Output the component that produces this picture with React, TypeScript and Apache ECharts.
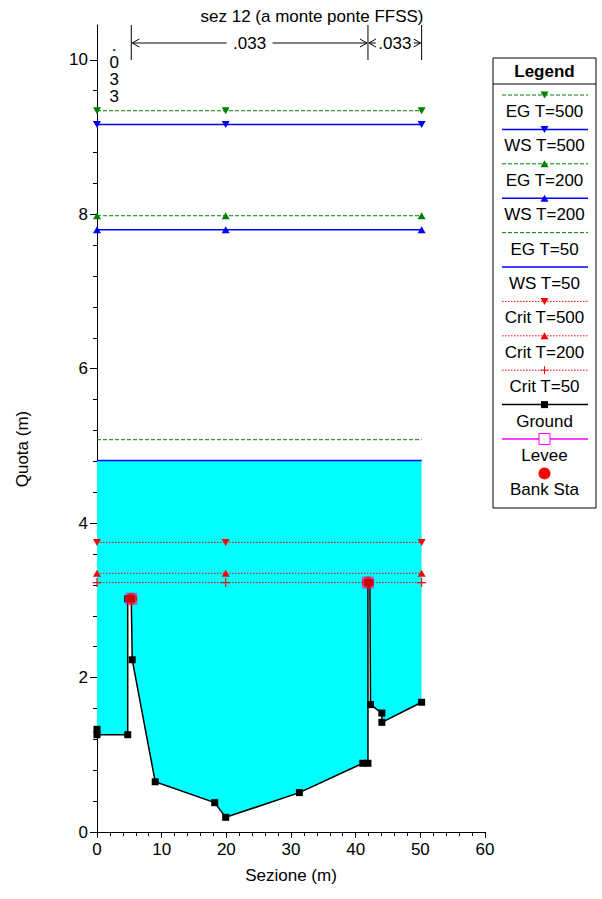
import React, { useEffect, useRef } from "react";
import * as echarts from "echarts";

const titleText = "sez 12 (a monte ponte FFSS)";
const xAxisName = "Sezione (m)";
const yAxisName = "Quota (m)";

// Ground profile (station, elevation)
const groundX = [0, 0, 4.75, 4.75, 5.3, 5.45, 9.0, 18.2, 19.9, 31.3, 41.1, 41.9, 41.9, 42.2, 42.3, 44.05, 44.05, 50.2];
const groundY = [1.33, 1.26, 1.26, 3.02, 3.02, 2.23, 0.65, 0.38, 0.19, 0.51, 0.89, 0.89, 3.23, 3.23, 1.65, 1.54, 1.42, 1.68];

// Water profiles
const profileNames = ["EG T=500", "WS T=500", "EG T=200", "WS T=200", "EG T=50", "WS T=50", "Crit T=500", "Crit T=200", "Crit T=50"];
const profileLevels = [9.34, 9.16, 7.98, 7.8, 5.08, 4.81, 3.75, 3.35, 3.23];
const profileKinds = ["EG", "WS", "EG", "WS", "EG", "WS", "Crit", "Crit", "Crit"];
const profileMarkers = ["down", "down", "up", "up", "none", "none", "down", "up", "plus"];
const markerStations = [0, 19.9, 50.2];
const fillProfile = "WS T=50";

// Bank stations / levees
const bankStaX = [5.3, 41.9];
const bankStaY = [3.02, 3.23];

// Manning's n
const nBreaks = [0, 5.3, 41.9, 50.2];
const nValues = [".033", ".033", ".033"];

const yMajorTicks = [0, 2, 4, 6, 8, 10];
const yMinorTicks = [0.4, 0.8, 1.2, 1.6, 2.4, 2.8, 3.2, 3.6, 4.4, 4.8, 5.2, 5.6, 6.4, 6.8, 7.2, 7.6, 8.4, 8.8, 9.2, 9.6];

const legendNames = [...profileNames, "Ground", "Levee", "Bank Sta"];

const FONT = "Liberation Sans, Arial, Helvetica, sans-serif";
const kindStyle: Record<string, { color: string; type: any; width: number }> = {
  EG: { color: "#008000", type: [4, 2], width: 1 },
  WS: { color: "#0000ff", type: "solid", width: 1.5 },
  Crit: { color: "#ff0000", type: [1.5, 1.5], width: 1 },
};
const PLUS = "path://M3.5,0H4.5V3.5H8V4.5H4.5V8H3.5V4.5H0V3.5H3.5Z";

export default function App() {
  const ref = useRef<HTMLDivElement>(null);
  useEffect(() => {
    document.body.style.margin = "0";
    const chart = echarts.init(ref.current!, null, { renderer: "svg" });
    const wsLevel = profileLevels[profileNames.indexOf(fillProfile)];
    const ground = groundX.map((x, i) => [x, groundY[i]]);
    const xEnd = groundX[groundX.length - 1];

    const profileSeries = profileNames.map((name, i) => {
      const st = kindStyle[profileKinds[i]];
      const m = profileMarkers[i];
      return {
        type: "line",
        name,
        data: markerStations.map((x) => [x, profileLevels[i]]),
        symbol: m === "none" ? "none" : m === "plus" ? PLUS : "triangle",
        symbolRotate: m === "down" ? 180 : 0,
        symbolSize: m === "plus" ? 9 : [8, 7],
        showSymbol: m !== "none",
        itemStyle: { color: st.color },
        lineStyle: { color: st.color, type: st.type, width: st.width },
        z: 3,
        silent: true,
      };
    });

    const option: any = {
      animation: false,
      title: {
        text: titleText,
        left: 307,
        top: 3,
        textAlign: "center",
        textStyle: { fontFamily: FONT, fontSize: 17, fontWeight: "normal", color: "#000" },
      },
      grid: { left: 97, right: 117, top: 25, bottom: 67 },
      xAxis: {
        type: "value",
        min: 0,
        max: 60,
        interval: 10,
        name: xAxisName,
        nameLocation: "middle",
        nameGap: 35,
        nameTextStyle: { fontFamily: FONT, fontSize: 17, color: "#000" },
        axisLine: { show: true, onZero: false, lineStyle: { color: "#000", width: 1 } },
        axisTick: { show: true, length: 6, lineStyle: { color: "#000" } },
        minorTick: { show: true, splitNumber: 5, length: 4, lineStyle: { color: "#000" } },
        axisLabel: { fontFamily: FONT, fontSize: 17, color: "#000", margin: 9 },
        splitLine: { show: false },
        minorSplitLine: { show: false },
      },
      yAxis: [
        {
          type: "value",
          min: 0,
          max: 10.45,
          interval: 2,
          axisLine: { show: true, onZero: false, lineStyle: { color: "#000", width: 1 } },
          axisTick: { show: true, length: 7, customValues: yMajorTicks, lineStyle: { color: "#000" } },
          axisLabel: { fontFamily: FONT, fontSize: 17, color: "#000", margin: 9, customValues: yMajorTicks },
          splitLine: { show: false },
        },
        {
          type: "value",
          min: 0,
          max: 10.45,
          position: "left",
          axisLine: { show: false },
          axisTick: { show: true, length: 4, customValues: yMinorTicks, lineStyle: { color: "#000" } },
          axisLabel: { show: false },
          splitLine: { show: false },
        },
      ],
      series: [
        {
          type: "custom",
          name: "water",
          data: [[0, wsLevel]],
          z: 1,
          silent: true,
          renderItem: (params: any, api: any) => {
            const pts = [[0, wsLevel], [xEnd, wsLevel], ...ground.slice().reverse()].map((p) => api.coord(p));
            return { type: "polygon", shape: { points: pts }, style: { fill: "#00ffff" } };
          },
        },
        ...profileSeries,
        {
          type: "line",
          name: "Ground",
          data: ground,
          symbol: "rect",
          symbolSize: 7,
          itemStyle: { color: "#000" },
          lineStyle: { color: "#000", width: 1.5 },
          z: 4,
          silent: true,
        },
        {
          type: "scatter",
          name: "Levee",
          data: bankStaX.map((x, i) => [x, bankStaY[i]]),
          symbol: "rect",
          symbolSize: 11,
          itemStyle: { color: "rgba(0,0,0,0)", borderColor: "#ff00ff", borderWidth: 1 },
          z: 5,
          silent: true,
        },
        {
          type: "scatter",
          name: "Bank Sta",
          data: bankStaX.map((x, i) => [x, bankStaY[i]]),
          symbol: "circle",
          symbolSize: 12,
          itemStyle: { color: "#ff0000" },
          z: 6,
          silent: true,
        },
      ],
    };
    chart.setOption(option);

    const px = (x: number) => (chart.convertToPixel({ xAxisIndex: 0, yAxisIndex: 0 }, [x, 0]) as number[])[0];
    const els: any[] = [];

    // Y axis name
    els.push({
      type: "text",
      x: 22,
      y: 449,
      rotation: Math.PI / 2,
      style: { text: yAxisName, fontFamily: FONT, fontSize: 17, fill: "#000", align: "center", verticalAlign: "middle" },
    });

    // Manning's n annotation
    const barTop = 25, barBot = 60, arrowY = 43;
    for (let i = 1; i < nBreaks.length; i++) {
      const bx = px(nBreaks[i]);
      els.push({ type: "line", shape: { x1: bx, y1: barTop, x2: bx, y2: barBot }, style: { stroke: "#000", lineWidth: 1 } });
    }
    for (let i = 0; i < nValues.length; i++) {
      const x0 = px(nBreaks[i]);
      const x1 = px(nBreaks[i + 1]);
      const w = x1 - x0;
      const cx = (x0 + x1) / 2;
      if (w < 45) {
        nValues[i].split("").forEach((ch, k) => {
          els.push({
            type: "text",
            x: cx,
            y: 45 + k * 17.3,
            style: { text: ch, fontFamily: FONT, fontSize: 17, lineHeight: 16, fill: "#000", align: "center", verticalAlign: "middle" },
          });
        });
        continue;
      }
      const tw = 34;
      const gap = w > 80 ? 6 : 2;
      els.push({ type: "text", x: cx, y: arrowY, style: { text: nValues[i], fontFamily: FONT, fontSize: 17, fill: "#000", align: "center", verticalAlign: "middle" } });
      els.push({ type: "line", shape: { x1: x0 + 1, y1: arrowY, x2: cx - tw / 2 - gap, y2: arrowY }, style: { stroke: "#000", lineWidth: 1 } });
      els.push({ type: "line", shape: { x1: cx + tw / 2 + gap, y1: arrowY, x2: x1 - 1, y2: arrowY }, style: { stroke: "#000", lineWidth: 1 } });
      els.push({ type: "polyline", shape: { points: [[x0 + 8, arrowY - 4], [x0 + 1, arrowY], [x0 + 8, arrowY + 4]] }, style: { stroke: "#000", lineWidth: 1, fill: null } });
      els.push({ type: "polyline", shape: { points: [[x1 - 8, arrowY - 4], [x1 - 1, arrowY], [x1 - 8, arrowY + 4]] }, style: { stroke: "#000", lineWidth: 1, fill: null } });
    }

    // Legend box
    const L = 493, R = 596, T = 58, B = 508, cxL = (L + R) / 2;
    els.push({ type: "rect", shape: { x: L, y: T, width: R - L, height: B - T }, style: { fill: "#fff", stroke: "#000", lineWidth: 1 }, z: 10 });
    els.push({ type: "text", x: cxL, y: 71, style: { text: "Legend", fontFamily: FONT, fontSize: 17, fontWeight: "bold", fill: "#000", align: "center", verticalAlign: "middle" }, z: 11 });
    els.push({ type: "line", shape: { x1: L, y1: 84, x2: R, y2: 84 }, style: { stroke: "#000", lineWidth: 1 }, z: 11 });
    const pitch = 34.4;
    legendNames.forEach((name, i) => {
      const ly = 95 + i * pitch;
      const ty = ly + 16.5;
      els.push({ type: "text", x: cxL, y: ty, style: { text: name, fontFamily: FONT, fontSize: 17, fill: "#000", align: "center", verticalAlign: "middle" }, z: 11 });
      const pi = profileNames.indexOf(name);
      if (pi >= 0) {
        const st = kindStyle[profileKinds[pi]];
        els.push({ type: "line", shape: { x1: 502, y1: ly, x2: 588, y2: ly }, style: { stroke: st.color, lineWidth: st.width, lineDash: st.type === "solid" ? null : st.type }, z: 11 });
        const m = profileMarkers[pi];
        if (m === "down") els.push({ type: "polygon", shape: { points: [[cxL - 4, ly - 3.5], [cxL + 4, ly - 3.5], [cxL, ly + 3.5]] }, style: { fill: st.color }, z: 12 });
        if (m === "up") els.push({ type: "polygon", shape: { points: [[cxL - 4, ly + 3.5], [cxL + 4, ly + 3.5], [cxL, ly - 3.5]] }, style: { fill: st.color }, z: 12 });
        if (m === "plus") {
          els.push({ type: "line", shape: { x1: cxL - 4, y1: ly, x2: cxL + 4, y2: ly }, style: { stroke: st.color, lineWidth: 1 }, z: 12 });
          els.push({ type: "line", shape: { x1: cxL, y1: ly - 4, x2: cxL, y2: ly + 4 }, style: { stroke: st.color, lineWidth: 1 }, z: 12 });
        }
      } else if (name === "Ground") {
        els.push({ type: "line", shape: { x1: 502, y1: ly, x2: 588, y2: ly }, style: { stroke: "#000", lineWidth: 1.5 }, z: 11 });
        els.push({ type: "rect", shape: { x: cxL - 3.5, y: ly - 3.5, width: 7, height: 7 }, style: { fill: "#000" }, z: 12 });
      } else if (name === "Levee") {
        els.push({ type: "line", shape: { x1: 502, y1: ly, x2: 588, y2: ly }, style: { stroke: "#ff00ff", lineWidth: 1.5 }, z: 11 });
        els.push({ type: "rect", shape: { x: cxL - 5.5, y: ly - 5.5, width: 11, height: 11 }, style: { fill: "#fff", stroke: "#ff00ff", lineWidth: 1 }, z: 12 });
      } else if (name === "Bank Sta") {
        els.push({ type: "circle", shape: { cx: cxL, cy: ly, r: 6 }, style: { fill: "#ff0000" }, z: 12 });
      }
    });

    chart.setOption({ graphic: { elements: els } });
    return () => chart.dispose();
  }, []);
  return <div ref={ref} style={{ width: 602, height: 899 }} />;
}
